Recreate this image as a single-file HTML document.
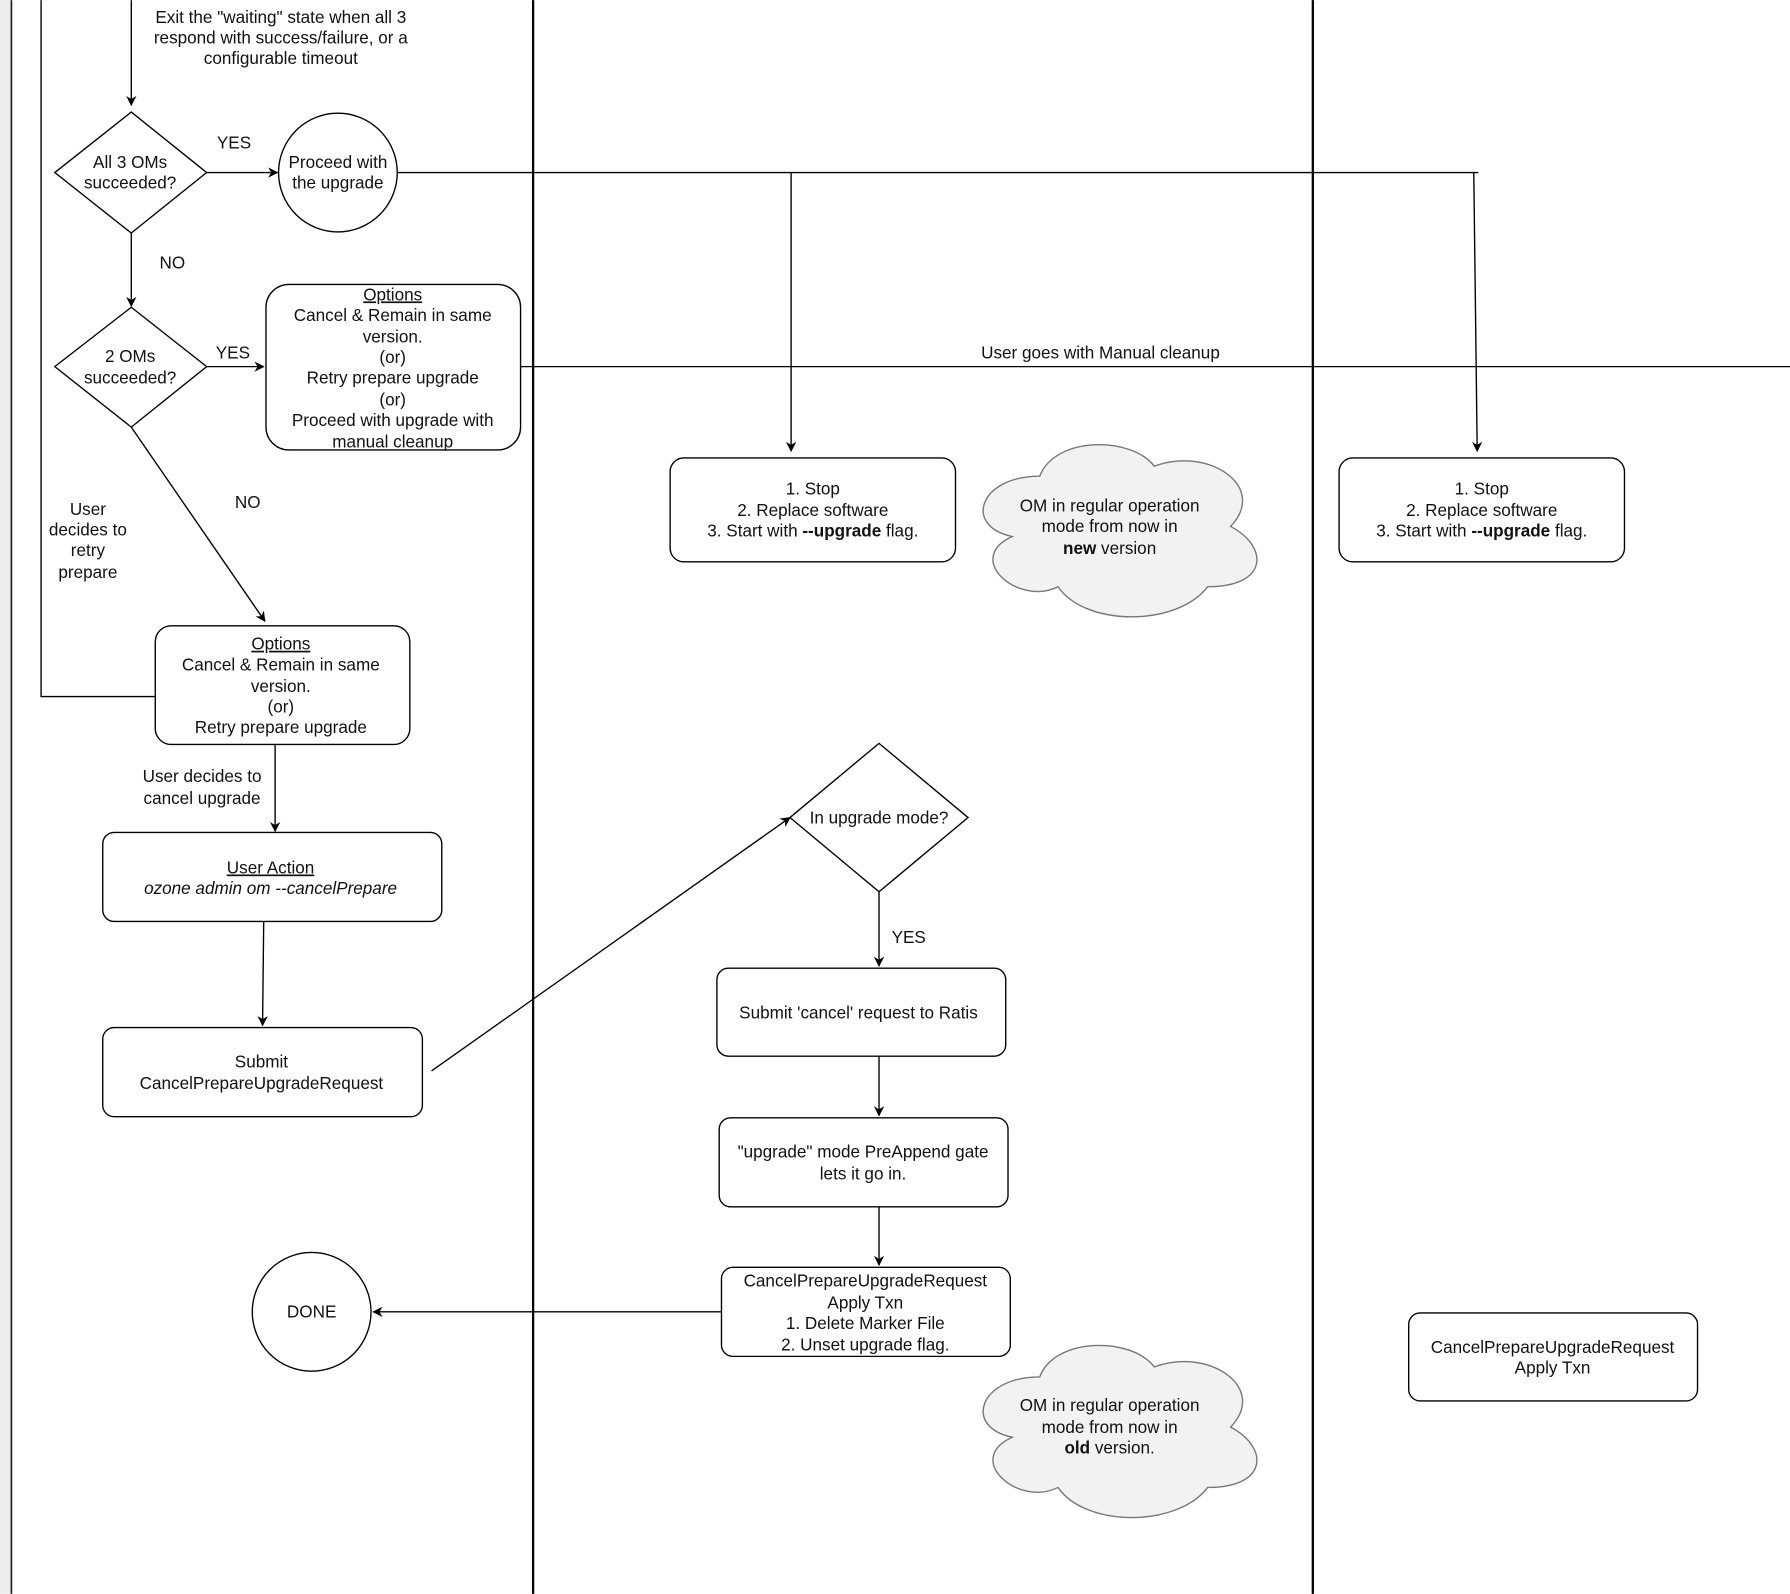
<!DOCTYPE html>
<html><head><meta charset="utf-8"><style>
html,body{margin:0;padding:0;background:#fff;}
svg{display:block;}
text{font-family:"Liberation Sans",Arial,sans-serif;font-size:15px;fill:#111;text-anchor:middle;}
</style></head><body>
<svg width="1790" height="1594" viewBox="0 0 1568 1396" xmlns="http://www.w3.org/2000/svg">
<defs>
<marker id="a" viewBox="0 0 10 10" refX="9" refY="5" markerWidth="9" markerHeight="9" orient="auto" markerUnits="userSpaceOnUse">
<path d="M0,0 L10,5 L0,10 L3,5 Z" fill="#000"/></marker>
<path id="cloud" d="M25 20 C1 20 -5 40 14.2 44 C-5 52.8 16.6 72 32.2 64 C43 80 79 80 91 64 C115 64 115 48 100 40 C115 24 91 8 70 16 C61 4 31 4 25 20 Z"/>
</defs>
<rect x="0" y="0" width="9" height="1396" fill="#ececec"/>
<line x1="10" y1="0" x2="10" y2="1396" stroke="#222" stroke-width="1.5"/>
<line x1="467" y1="0" x2="467" y2="1396" stroke="#000" stroke-width="2"/>
<line x1="1150" y1="0" x2="1150" y2="1396" stroke="#000" stroke-width="2"/>
<g fill="none" stroke="#000" stroke-width="1.2">
<polyline points="36,0 36,610 136,610"/>
<line x1="115" y1="0" x2="115" y2="92" marker-end="url(#a)"/>
<polygon points="115,98 181,151 115,204 48,151" fill="#fff"/>
<line x1="181" y1="151" x2="243" y2="151" marker-end="url(#a)"/>
<circle cx="296" cy="151" r="52" fill="#fff"/>
<line x1="348" y1="151" x2="1295" y2="151"/>
<line x1="693" y1="151" x2="693" y2="395" marker-end="url(#a)"/>
<line x1="1291" y1="151" x2="1294" y2="395" marker-end="url(#a)"/>
<line x1="115" y1="204" x2="115" y2="268" marker-end="url(#a)"/>
<polygon points="115,269 181,321 115,374 48,321" fill="#fff"/>
<line x1="181" y1="321" x2="231" y2="321" marker-end="url(#a)"/>
<rect x="233" y="249" width="223" height="145" rx="20" fill="#fff"/>
<line x1="456" y1="321" x2="1568" y2="321"/>
<rect x="587" y="401" width="250" height="91" rx="12" fill="#fff"/>
<rect x="1173" y="401" width="250" height="91" rx="12" fill="#fff"/>
<line x1="115" y1="374" x2="232" y2="544" marker-end="url(#a)"/>
<rect x="136" y="548" width="223" height="104" rx="14" fill="#fff"/>
<line x1="241" y1="652" x2="241" y2="728" marker-end="url(#a)"/>
<rect x="90" y="729" width="297" height="78" rx="10" fill="#fff"/>
<line x1="231" y1="807" x2="230" y2="898" marker-end="url(#a)"/>
<rect x="90" y="900" width="280" height="78" rx="10" fill="#fff"/>
<line x1="378" y1="938" x2="692" y2="716" marker-end="url(#a)"/>
<polygon points="770,651 848,716 770,781 692,716" fill="#fff"/>
<line x1="770" y1="781" x2="770" y2="846" marker-end="url(#a)"/>
<rect x="628" y="848" width="253" height="77" rx="10" fill="#fff"/>
<line x1="770" y1="925" x2="770" y2="977" marker-end="url(#a)"/>
<rect x="630" y="979" width="253" height="78" rx="10" fill="#fff"/>
<line x1="770" y1="1057" x2="770" y2="1108" marker-end="url(#a)"/>
<rect x="632" y="1110" width="253" height="78" rx="10" fill="#fff"/>
<line x1="632" y1="1149" x2="327" y2="1149" marker-end="url(#a)"/>
<circle cx="273" cy="1149" r="52" fill="#fff"/>
<rect x="1234" y="1150" width="253" height="77" rx="10" fill="#fff"/>
</g>
<use href="#cloud" transform="translate(855,373) scale(2.23,2.2)" fill="#f2f2f2" stroke="#777" stroke-width="0.55"/>
<use href="#cloud" transform="translate(855,1162) scale(2.23,2.2)" fill="#f2f2f2" stroke="#777" stroke-width="0.55"/>

<text x="246" y="20">Exit the "waiting" state when all 3</text>
<text x="246" y="38">respond with success/failure, or a</text>
<text x="246" y="56">configurable timeout</text>
<text x="114" y="147">All 3 OMs</text>
<text x="114" y="165">succeeded?</text>
<text x="205" y="130">YES</text>
<text x="296" y="147">Proceed with</text>
<text x="296" y="165">the upgrade</text>
<text x="151" y="235">NO</text>
<text x="114" y="317">2 OMs</text>
<text x="114" y="336">succeeded?</text>
<text x="204" y="314">YES</text>
<text x="344" y="263" text-decoration="underline">Options</text>
<text x="344" y="281">Cancel &amp; Remain in same</text>
<text x="344" y="300">version.</text>
<text x="344" y="318">(or)</text>
<text x="344" y="336">Retry prepare upgrade</text>
<text x="344" y="355">(or)</text>
<text x="344" y="373">Proceed with upgrade with</text>
<text x="344" y="392">manual cleanup</text>
<text x="964" y="314">User goes with Manual cleanup</text>
<text x="712" y="433">1. Stop</text>
<text x="712" y="452">2. Replace software</text>
<text x="712" y="470">3. Start with <tspan font-weight="bold">--upgrade</tspan> flag.</text>
<text x="1298" y="433">1. Stop</text>
<text x="1298" y="452">2. Replace software</text>
<text x="1298" y="470">3. Start with <tspan font-weight="bold">--upgrade</tspan> flag.</text>
<text x="972" y="448">OM in regular operation</text>
<text x="972" y="466">mode from now in</text>
<text x="972" y="485"><tspan font-weight="bold">new</tspan> version</text>
<text x="217" y="445">NO</text>
<text x="77" y="451">User</text>
<text x="77" y="469">decides to</text>
<text x="77" y="487">retry</text>
<text x="77" y="506">prepare</text>
<text x="246" y="569" text-decoration="underline">Options</text>
<text x="246" y="587">Cancel &amp; Remain in same</text>
<text x="246" y="606">version.</text>
<text x="246" y="624">(or)</text>
<text x="246" y="642">Retry prepare upgrade</text>
<text x="177" y="685">User decides to</text>
<text x="177" y="704">cancel upgrade</text>
<text x="237" y="765" text-decoration="underline">User Action</text>
<text x="237" y="783" font-style="italic">ozone admin om --cancelPrepare</text>
<text x="229" y="935">Submit</text>
<text x="229" y="954">CancelPrepareUpgradeRequest</text>
<text x="770" y="721">In upgrade mode?</text>
<text x="796" y="826">YES</text>
<text x="752" y="892">Submit 'cancel' request to Ratis</text>
<text x="756" y="1014">"upgrade" mode PreAppend gate</text>
<text x="756" y="1033">lets it go in.</text>
<text x="758" y="1127">CancelPrepareUpgradeRequest</text>
<text x="758" y="1146">Apply Txn</text>
<text x="758" y="1164">1. Delete Marker File</text>
<text x="758" y="1183">2. Unset upgrade flag.</text>
<text x="273" y="1154">DONE</text>
<text x="972" y="1236">OM in regular operation</text>
<text x="972" y="1255">mode from now in</text>
<text x="972" y="1273"><tspan font-weight="bold">old</tspan> version.</text>
<text x="1360" y="1185">CancelPrepareUpgradeRequest</text>
<text x="1360" y="1203">Apply Txn</text>
</svg>
</body></html>
